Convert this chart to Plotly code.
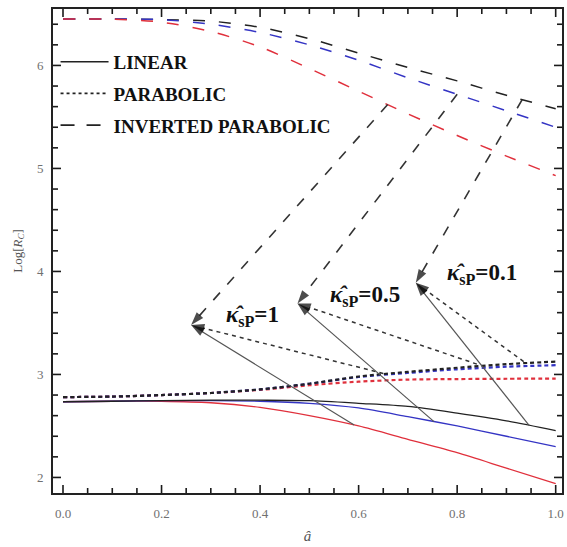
import numpy as np
import plotly.graph_objects as go

# Dimensionless position a-hat
a_hat = [0.0, 0.1, 0.2, 0.3, 0.4, 0.5, 0.6, 0.7, 0.8, 0.9, 1.0]

# Log[R_C] for the three profiles, one series per kappa_sP (0.1 black, 0.5 blue, 1 red)
linear_k01 = [2.735, 2.74, 2.745, 2.75, 2.75, 2.745, 2.72, 2.69, 2.625, 2.55, 2.455]
linear_k05 = [2.735, 2.74, 2.745, 2.745, 2.74, 2.72, 2.675, 2.59, 2.50, 2.40, 2.30]
linear_k1 = [2.735, 2.74, 2.74, 2.725, 2.68, 2.60, 2.50, 2.37, 2.24, 2.09, 1.94]

parab_k01 = [2.78, 2.785, 2.80, 2.82, 2.855, 2.91, 2.98, 3.025, 3.065, 3.10, 3.125]
parab_k05 = [2.78, 2.785, 2.80, 2.82, 2.855, 2.91, 2.975, 3.015, 3.05, 3.075, 3.09]
parab_k1 = [2.78, 2.785, 2.80, 2.82, 2.85, 2.895, 2.93, 2.95, 2.955, 2.958, 2.96]

inv_k01 = [6.45, 6.45, 6.445, 6.43, 6.37, 6.26, 6.12, 5.98, 5.85, 5.71, 5.58]
inv_k05 = [6.45, 6.45, 6.445, 6.40, 6.32, 6.20, 6.05, 5.88, 5.72, 5.56, 5.40]
inv_k1 = [6.45, 6.45, 6.42, 6.33, 6.18, 5.97, 5.75, 5.53, 5.32, 5.12, 4.93]

# Callout arrows: label point and the points on the curves they start from
kappa_text = ["1", "0.5", "0.1"]
tip_x = [0.26, 0.476, 0.716]
tip_y = [3.48, 3.69, 3.89]
inv_tail_x = [0.659, 0.80, 0.932]
par_tail_x = [0.65, 0.84, 0.935]
par_tail_y = [3.01, 3.10, 3.125]
lin_tail_x = [0.591, 0.753, 0.946]
label_x = [0.385, 0.613, 0.851]
label_y = [3.57, 3.76, 3.98]

# Axis ticks
x_major = [0.0, 0.2, 0.4, 0.6, 0.8, 1.0]
x_major_text = ["0.0", "0.2", "0.4", "0.6", "0.8", "1.0"]
y_major = [2, 3, 4, 5, 6]
x_minor_step = 0.05
y_minor_step = 0.2

BLACK = "#222222"
BLUE = "#3434c4"
RED = "#e0303c"
SERIF = "Liberation Serif, Times New Roman, serif"

LONG_DASH = "12px,14px"
SHORT_DASH = "4px,3px"

X_RANGE = [-0.0203, 1.0128]
Y_RANGE = [1.849, 6.548]
W, H = 567, 547
M = dict(l=53, r=5, t=9, b=54)
plot_w = W - M["l"] - M["r"]
plot_h = H - M["t"] - M["b"]
dx_px = (X_RANGE[1] - X_RANGE[0]) / plot_w
dy_px = (Y_RANGE[1] - Y_RANGE[0]) / plot_h

fig = go.Figure()

# (series, colour, dash, width)
curves = [
    (inv_k01, BLACK, LONG_DASH, 1.5),
    (inv_k05, BLUE, LONG_DASH, 1.5),
    (inv_k1, RED, LONG_DASH, 1.5),
    (parab_k1, RED, SHORT_DASH, 2.2),
    (parab_k05, BLUE, SHORT_DASH, 2.2),
    (parab_k01, BLACK, SHORT_DASH, 2.2),
    (linear_k1, RED, "solid", 1.3),
    (linear_k05, BLUE, "solid", 1.3),
    (linear_k01, BLACK, "solid", 1.3),
]
for ys, col, dash, w in curves:
    fig.add_trace(go.Scatter(
        x=a_hat, y=ys, mode="lines",
        line=dict(color=col, dash=dash, width=w, shape="spline", smoothing=0.8),
        showlegend=False, hoverinfo="skip"))

# Legend entries
for name, dash, w in [("LINEAR", "solid", 1.5),
                      ("PARABOLIC", "3px,3px", 1.8),
                      ("INVERTED PARABOLIC", "14px,12px", 1.6)]:
    fig.add_trace(go.Scatter(
        x=[None], y=[None], mode="lines", name=name, legendgroup=name,
        line=dict(color=BLACK, dash=dash, width=w)))

# Arrows from each profile to the kappa label
inv_sets = [inv_k1, inv_k05, inv_k01]
lin_sets = [linear_k1, linear_k05, linear_k01]
for i in range(3):
    inv_y = float(np.interp(inv_tail_x[i], a_hat, inv_sets[i]))
    lin_y = float(np.interp(lin_tail_x[i], a_hat, lin_sets[i]))
    arrows = [
        ((inv_tail_x[i], inv_y), "10px,11px", "#333333", 1.6),
        ((par_tail_x[i], par_tail_y[i]), "4px,4px", "#333333", 1.5),
        ((lin_tail_x[i], lin_y), "solid", "#555555", 1.2),
    ]
    for (tx, ty), dash, col, w in arrows:
        fig.add_trace(go.Scatter(
            x=[tx, tip_x[i]], y=[ty, tip_y[i]], mode="lines+markers",
            line=dict(color=col, dash=dash, width=w),
            marker=dict(symbol="arrow", size=[0, 14], angleref="previous",
                        color="black", line=dict(width=0)),
            showlegend=False, hoverinfo="skip"))
    fig.add_annotation(
        x=label_x[i], y=label_y[i], xref="x", yref="y", showarrow=False,
        text="<b><i>κ̂</i><sub>sP</sub>=" + kappa_text[i] + "</b>",
        font=dict(family=SERIF, size=23, color="#111111"))

# Inward tick marks on all four sides of the frame
tx, ty = [], []
x_all = np.round(np.arange(0, X_RANGE[1] + 1e-9, x_minor_step), 4)
for v in x_all:
    ln = 8 if any(abs(v - m) < 1e-6 for m in x_major) else 5
    for y0, sgn in ((Y_RANGE[0], 1), (Y_RANGE[1], -1)):
        tx += [float(v), float(v), None]
        ty += [y0, y0 + sgn * ln * dy_px, None]
y_all = np.round(np.arange(2.0, Y_RANGE[1], y_minor_step), 4)
for v in y_all:
    ln = 8 if any(abs(v - m) < 1e-6 for m in y_major) else 5
    for x0, sgn in ((X_RANGE[0], 1), (X_RANGE[1], -1)):
        tx += [x0, x0 + sgn * ln * dx_px, None]
        ty += [float(v), float(v), None]
fig.add_trace(go.Scatter(x=tx, y=ty, mode="lines", line=dict(color="#1a1a1a", width=1.6),
                         connectgaps=False, showlegend=False, hoverinfo="skip",
                         cliponaxis=False))

axis_common = dict(
    showline=True, linecolor="#222222", linewidth=1.6, mirror=True,
    ticks="", showgrid=False, zeroline=False,
    tickfont=dict(family=SERIF, size=13, color="#707070"),
)

fig.update_layout(
    template="none",
    width=W, height=H,
    margin=M,
    plot_bgcolor="white", paper_bgcolor="white",
    xaxis=dict(range=X_RANGE, tickvals=x_major, ticktext=x_major_text,
               ticklabelstandoff=8,
               title=dict(text="<i>â</i>", font=dict(family=SERIF, size=15, color="#555555"),
                          standoff=10),
               **axis_common),
    yaxis=dict(range=Y_RANGE, tickvals=y_major, ticklabelstandoff=5,
               title=dict(text="Log[<i>R</i><sub><i>C</i></sub>]",
                          font=dict(family=SERIF, size=13, color="#555555"), standoff=12),
               **axis_common),
    legend=dict(x=0.005, y=0.93, xanchor="left", yanchor="top",
                bgcolor="rgba(255,255,255,0)", borderwidth=0,
                itemwidth=48, tracegroupgap=4,
                font=dict(family=SERIF, size=19, color="#111111", weight="bold")),
    showlegend=True,
)

fig.write_html("out.html")
